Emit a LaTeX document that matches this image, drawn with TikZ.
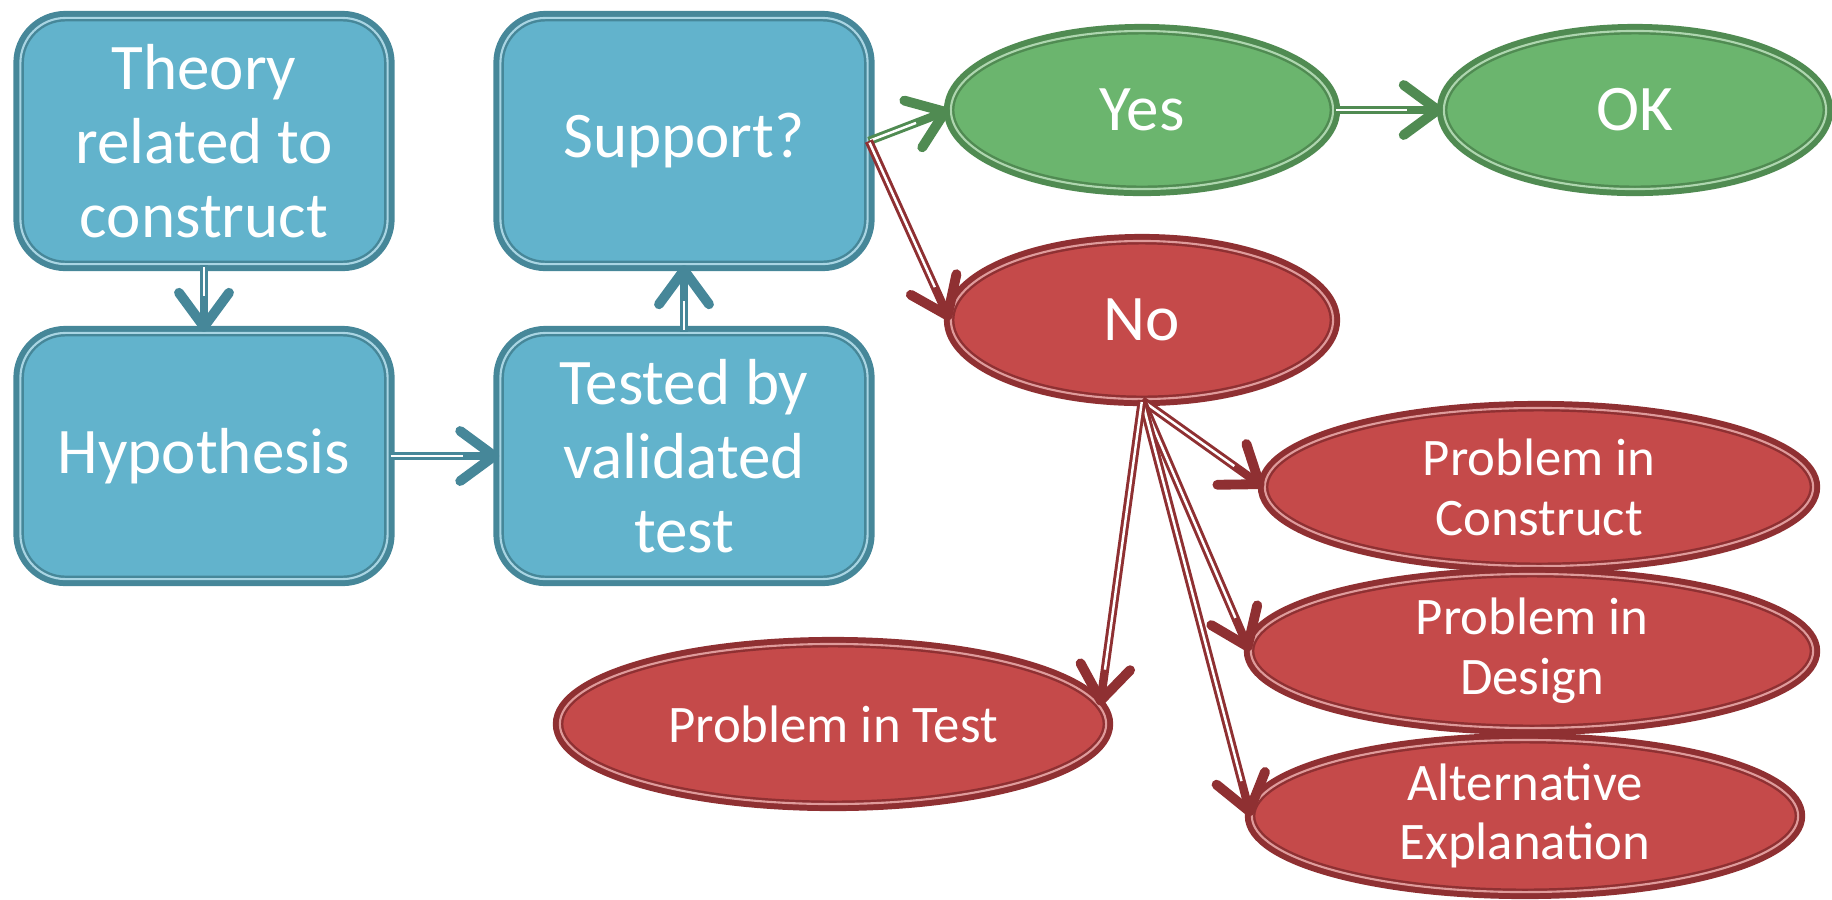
\documentclass[tikz,border=0pt]{standalone}
\usepackage{fontspec}
\setmainfont{Carlito}
\usetikzlibrary{arrows.meta,shapes.geometric}
\definecolor{boxfill}{HTML}{62B3CC}
\definecolor{boxline}{HTML}{468799}
\definecolor{yesfill}{HTML}{6BB56E}
\definecolor{yesline}{HTML}{508B52}
\definecolor{nofill}{HTML}{C54A4A}
\definecolor{noline}{HTML}{8F3032}
\tikzset{
  stepbox/.style={rounded corners=0.45cm, fill=boxfill, draw=boxline, line width=0.7pt,
    double=boxfill!55!white, double distance=0.6pt, preaction={draw=boxline, line width=4pt},
    minimum width=3.67cm, minimum height=2.46cm,
    align=center, text=white, font=\fontsize{18.5}{21}\selectfont},
  answer/.style={ellipse, fill=#1fill, draw=#1line, line width=0.7pt, double=#1fill!55!white,
    double distance=0.6pt, preaction={draw=#1line, line width=4pt},
    inner sep=0pt, text=white, align=center},
  bigtext/.style={font=\fontsize{18.5}{21}\selectfont, minimum width=3.82cm, minimum height=1.58cm},
  smalltext/.style={font=\fontsize{15}{17}\selectfont},
  link/.style={draw=#1, line width=2.4pt,
    -{Straight Barb[round, length=0.34cm, width=0.5cm, line width=2.8pt]},
    postaction={draw=white, line width=0.7pt, -, shorten >=0.36cm, shorten <=0.5pt}},
}
\begin{document}
\begin{tikzpicture}[x=0.01cm, y=-0.01cm]
    \useasboundingbox (0,0) rectangle (1832,899);
    % Left-hand chain.
    \node[stepbox] (theory) at (204,141) {Theory\\related to\\construct};
    \node[stepbox] (hypo) at (204,456) {Hypothesis};
    \node[stepbox] (tested) at (684,456) {Tested by\\validated\\test};
    \node[stepbox] (support) at (684,141) {Support?};
    % Answers.
    \node[answer=yes, bigtext] (yes) at (1142,110) {Yes};
    \node[answer=yes, bigtext] (ok) at (1635,110) {OK};
    \node[answer=no, bigtext] (no) at (1142,320) {No};
    % Possible problems.
    \node[answer=no, smalltext, minimum width=5.48cm, minimum height=1.58cm] (pconstruct) at (1539,487) {Problem in\\Construct};
    \node[answer=no, smalltext, minimum width=5.62cm, minimum height=1.54cm] (pdesign) at (1532,651) {Problem in\\Design};
    \node[answer=no, smalltext, minimum width=5.46cm, minimum height=1.52cm] (palt) at (1525,816) {Alternative\\Explanation};
    \node[answer=no, smalltext, minimum width=5.46cm, minimum height=1.6cm] (ptest) at (833,724) {Problem in Test};
    % Connectors.
    \draw[link=boxline] (theory.south) -- (hypo.north);
    \draw[link=boxline] (hypo.east) -- (tested.west);
    \draw[link=boxline] (tested.north) -- (support.south);
    \draw[link=yesline] (support.east) -- (yes.west);
    \draw[link=yesline] (yes.east) -- (ok.west);
    \draw[link=noline] (support.east) -- (no.west);
    \draw[link=noline] (no.south) -- (pconstruct.west);
    \draw[link=noline] (no.south) -- (pdesign.west);
    \draw[link=noline] (no.south) -- (palt.west);
    \draw[link=noline] (no.south) -- (ptest.4);
\end{tikzpicture}
\end{document}
